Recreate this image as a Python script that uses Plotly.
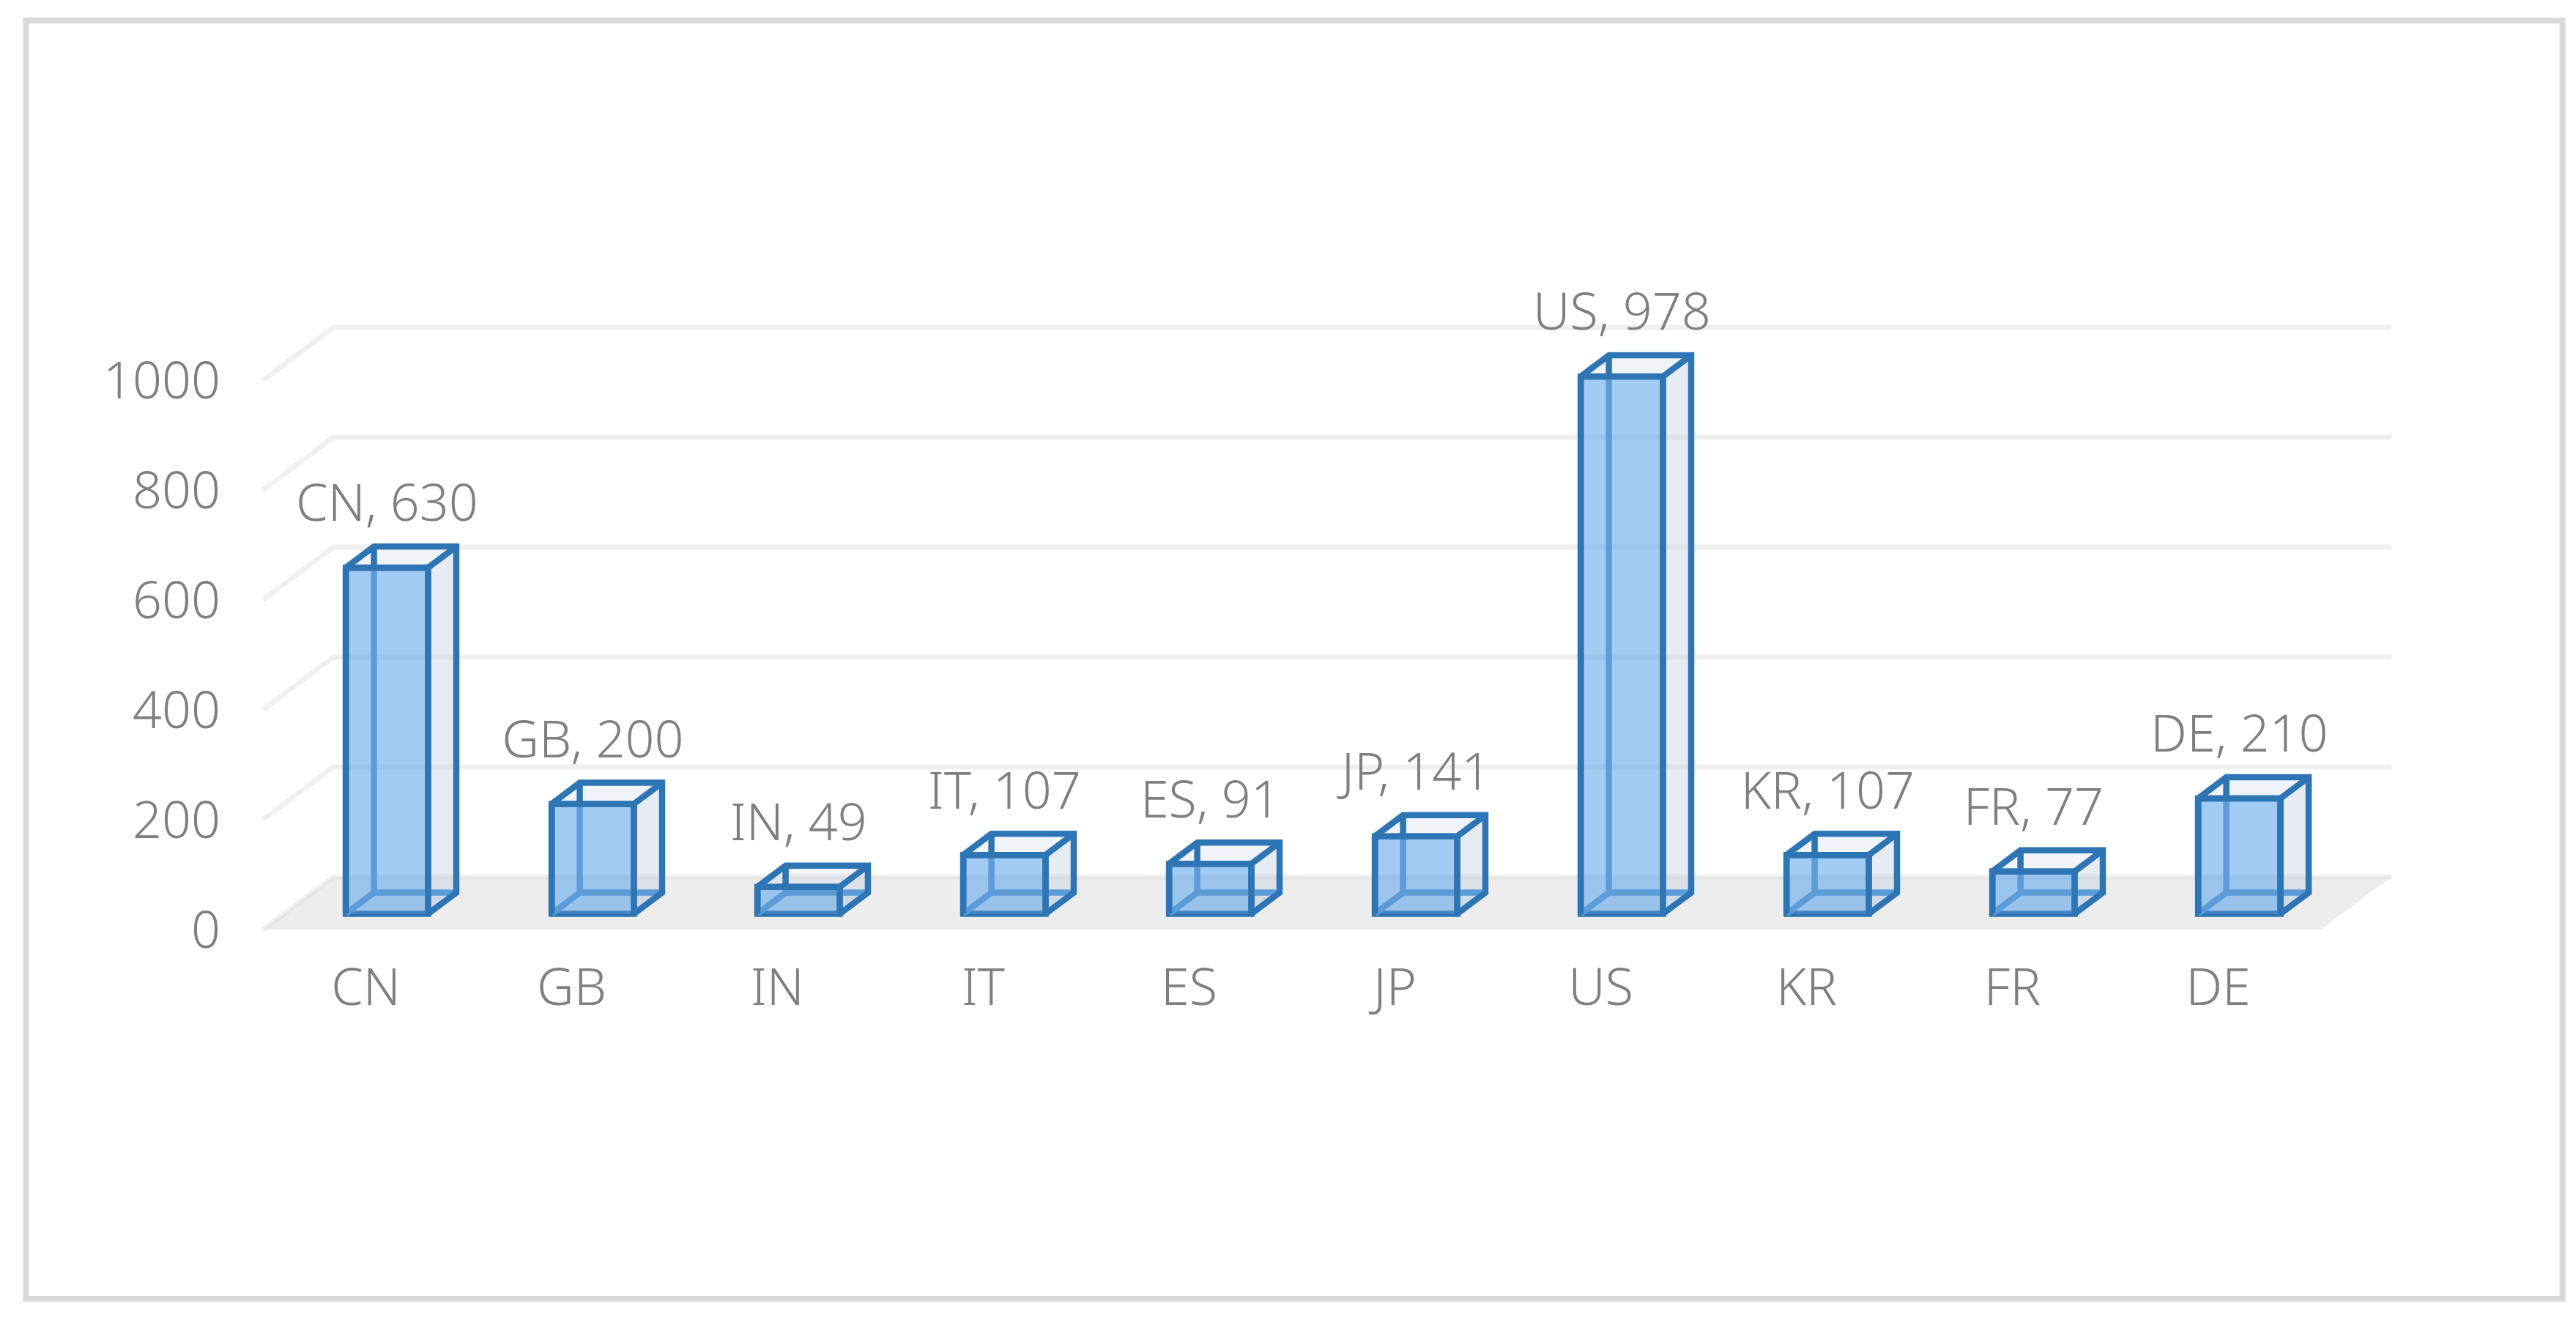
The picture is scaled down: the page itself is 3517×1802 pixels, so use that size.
import plotly.graph_objects as go

# values
countries = ["CN", "GB", "IN", "IT", "ES", "JP", "US", "KR", "FR", "DE"]
counts = [630, 200, 49, 107, 91, 141, 978, 107, 77, 210]
y_ticks = [0, 200, 400, 600, 800, 1000]

# oblique projection: how far the depth axis leans, in axis units
depth_x = 0.342
depth_y = 96
bar_width = 0.4
near = 0.3   # bar starts this far back on the floor
far = 0.7    # and ends here

FONT = "Noto Sans"
GREY = "#7f7f7f"
EDGE = "#2e75b6"
EDGE_BACK = "#5b9cd9"
EDGE_W = 8.5

# plot area in pixels, the axis ranges below follow from it
W, H = 3517, 1802
left, right, top, bottom = 310, 3317, 40, 1290
px_cat = 281.0
px_val = 0.75
x_at_0 = 499.5
y_at_0 = 1269


def paper_x(p):
    return (p - left) / (right - left)


def paper_y(p):
    return (bottom - p) / (bottom - top)


fig = go.Figure()

# outer frame
fig.add_shape(type="rect", xref="paper", yref="paper",
              x0=paper_x(35.5), x1=paper_x(3498.5), y0=paper_y(1773), y1=paper_y(28),
              line=dict(color="#d9d9d9", width=8), fillcolor="rgba(0,0,0,0)", layer="below")

# floor, as a shape so that the bars stay on top of it
fig.add_shape(type="path", xref="x", yref="y", layer="below", fillcolor="#ededed", line=dict(width=0),
              path=f"M -0.5 0 L 9.5 0 L {9.5 + depth_x} {depth_y} L {-0.5 + depth_x} {depth_y} Z")

# gridlines bent along the back wall
for v in y_ticks:
    fig.add_shape(type="path", xref="x", yref="y", layer="below",
                  line=dict(color="rgba(217,217,217,0.4)", width=7),
                  path=f"M -0.5 {v} L {-0.5 + depth_x} {v + depth_y} L {9.5 + depth_x} {v + depth_y}")

# faces and edges of every box
side_x, side_y, top_x, top_y, bot_x, bot_y = [], [], [], [], [], []
back_x, back_y, edge_x, edge_y = [], [], [], []
bar_x, bases = [], []
label_x, label_y, labels = [], [], []
for i, (c, v) in enumerate(zip(countries, counts)):
    xl = i + near * depth_x - bar_width / 2
    xr = xl + bar_width
    y0 = near * depth_y
    y1 = y0 + v
    dx = (far - near) * depth_x
    dy = (far - near) * depth_y
    side_x += [xr, xr + dx, xr + dx, xr, xr, None]
    side_y += [y0, y0 + dy, y1 + dy, y1, y0, None]
    top_x += [xl, xr, xr + dx, xl + dx, xl, None]
    top_y += [y1, y1, y1 + dy, y1 + dy, y1, None]
    bot_x += [xl, xr, xr + dx, xl + dx, xl, None]
    bot_y += [y0, y0, y0 + dy, y0 + dy, y0, None]
    # edges seen through the front face
    back_x += [xl, xl + dx, xr + dx, None, xl + dx, xl + dx, None]
    back_y += [y0, y0 + dy, y0 + dy, None, y0 + dy, y1, None]
    # edges that stay dark
    edge_x += [xl, xl + dx, xr + dx, xr + dx, xr, None, xr, xr + dx, None,
               xl + dx, xl + dx, None, xl, xr, None, xl, xl, None, xr, xr, None]
    edge_y += [y1, y1 + dy, y1 + dy, y0 + dy, y0, None, y1, y1 + dy, None,
               y1, y1 + dy, None, y1, y1, None, y0, y1, None, y0, y1, None]
    bar_x.append(xl + bar_width / 2)
    bases.append(y0)
    label_x.append(xl + bar_width / 2)
    label_y.append(y1 + dy + 23)
    labels.append(f"{c}, {v}")

fig.add_trace(go.Bar(x=bar_x, y=counts, base=bases, width=bar_width,
                     marker=dict(color="rgba(100,170,235,0.6)", line=dict(color=EDGE, width=EDGE_W))))
fig.add_trace(go.Scatter(x=bot_x, y=bot_y, mode="lines", fill="toself", fillcolor="rgba(150,190,235,0.22)",
                         line=dict(width=0), hoverinfo="skip"))
fig.add_trace(go.Scatter(x=side_x, y=side_y, mode="lines", fill="toself", fillcolor="rgba(190,205,222,0.38)",
                         line=dict(width=0), hoverinfo="skip"))
fig.add_trace(go.Scatter(x=top_x, y=top_y, mode="lines", fill="toself", fillcolor="rgba(205,220,235,0.3)",
                         line=dict(width=0), hoverinfo="skip"))
fig.add_trace(go.Scatter(x=back_x, y=back_y, mode="lines", line=dict(color=EDGE_BACK, width=EDGE_W),
                         hoverinfo="skip"))
fig.add_trace(go.Scatter(x=edge_x, y=edge_y, mode="lines", line=dict(color=EDGE, width=EDGE_W),
                         hoverinfo="skip"))
fig.add_trace(go.Scatter(x=label_x, y=label_y, text=labels, mode="text", textposition="top center",
                         textfont=dict(family=FONT, size=70, color=GREY, weight=300), cliponaxis=False))

fig.update_layout(
    width=W, height=H, showlegend=False, barmode="overlay",
    paper_bgcolor="white", plot_bgcolor="white",
    margin=dict(l=left, r=W - right, t=top, b=H - bottom, pad=0),
    font=dict(family=FONT, size=70, color=GREY, weight=300),
    xaxis=dict(range=[(left - x_at_0) / px_cat, (right - x_at_0) / px_cat],
               tickmode="array", tickvals=list(range(len(countries))), ticktext=countries,
               showgrid=False, zeroline=False, showline=False, ticks="", ticklabelstandoff=11),
    yaxis=dict(range=[(y_at_0 - bottom) / px_val, (y_at_0 - top) / px_val],
               tickmode="array", tickvals=y_ticks,
               showgrid=False, zeroline=False, showline=False, ticks="", ticklabelstandoff=8),
)

fig.write_html("out.html", config=dict(displayModeBar=False),
               post_script="document.body.style.margin='0';")
